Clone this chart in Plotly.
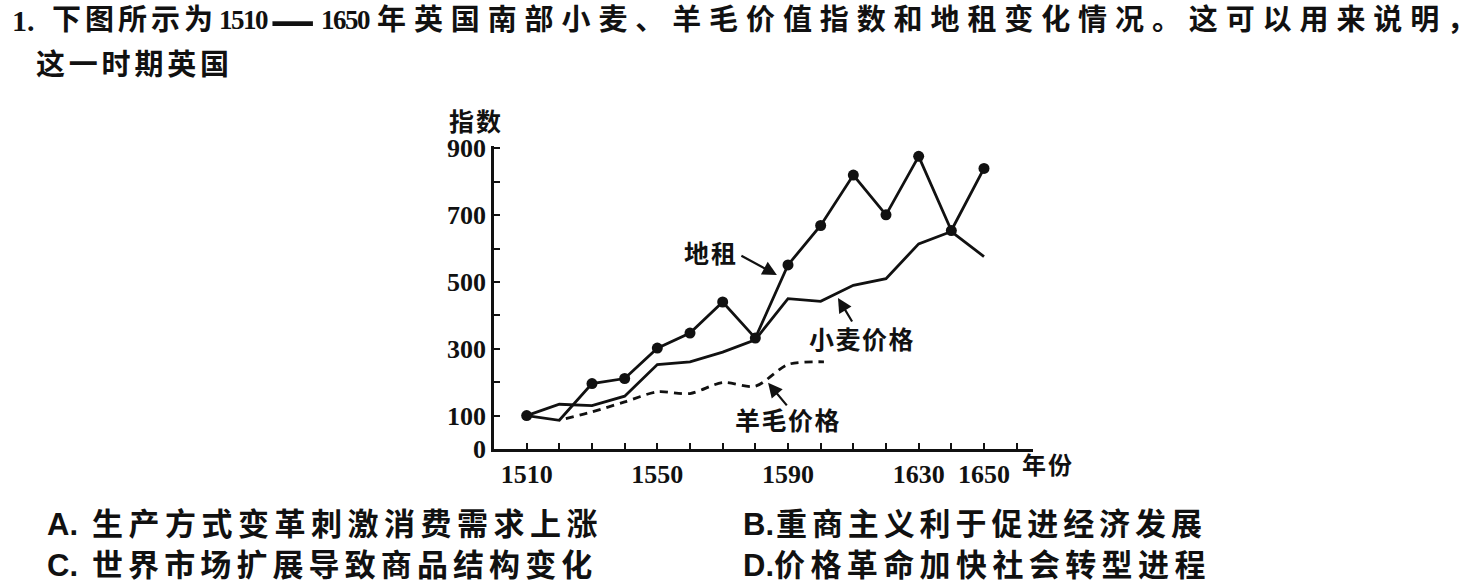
import plotly.graph_objects as go

# ---------------- data ----------------
years = [1510, 1520, 1530, 1540, 1550, 1560, 1570, 1580, 1590, 1600, 1610, 1620, 1630, 1640, 1650]
rent = [100, 86, 196, 211, 302, 347, 440, 332, 551, 669, 820, 701, 876, 654, 840]
wheat = [100, 134, 130, 158, 253, 261, 290, 327, 450, 442, 490, 510, 614, 651, 576]
wool_years = [1522, 1530, 1540, 1550, 1560, 1570, 1580, 1590, 1601]
wool = [91, 111, 141, 171, 166, 199, 188, 253, 261]
rent_unmarked_years = [1520]

x_ticks = list(range(1510, 1661, 10))
x_tick_labels = {1510: "1510", 1550: "1550", 1590: "1590", 1630: "1630", 1650: "1650"}
y_ticks = list(range(0, 901, 100))
y_tick_labels = {0: "0", 100: "100", 300: "300", 500: "500", 700: "700", 900: "900"}

question_l1_a = "1."
question_l1_b = "下图所示为"
question_l1_y1 = "1510"
question_l1_dash = "—"
question_l1_y2 = "1650"
question_l1_c = "年英国南部小麦、羊毛价值指数和地租变化情况。这可以用来说明，"
question_l2 = "这一时期英国"
options = [("A.", "生产方式变革刺激消费需求上涨"),
           ("B.", "重商主义利于促进经济发展"),
           ("C.", "世界市场扩展导致商品结构变化"),
           ("D.", "价格革命加快社会转型进程")]

# ---------------- layout geometry ----------------
W, H = 1478, 583
L, R, T, B = 494, 1033, 146, 449
PW, PH = R - L, B - T
CJK = "Liberation Sans, Noto Sans CJK SC"
SERIF = "Liberation Serif"
INK = "#111111"


def px(xp):
    return (xp - L) / PW


def py(yp):
    return (B - yp) / PH


fig = go.Figure()

fig.add_trace(go.Scatter(
    x=years, y=wheat, mode="lines",
    line=dict(color=INK, width=2.8), showlegend=False, hoverinfo="skip"))
fig.add_trace(go.Scatter(
    x=wool_years, y=wool, mode="lines",
    line=dict(color=INK, width=2.8, dash="8px,6px", shape="spline", smoothing=0.8),
    showlegend=False, hoverinfo="skip"))
fig.add_trace(go.Scatter(
    x=years, y=rent, mode="lines",
    line=dict(color=INK, width=2.8), showlegend=False, hoverinfo="skip"))
mk = [(x, y) for x, y in zip(years, rent) if x not in rent_unmarked_years]
fig.add_trace(go.Scatter(
    x=[p[0] for p in mk], y=[p[1] for p in mk], mode="markers",
    marker=dict(color=INK, size=11), showlegend=False, hoverinfo="skip"))

annotations = []


def txt(s, xp, yp, size, family=CJK, ls=0, xanchor="left"):
    if ls:
        # spacing between characters only (no trailing space after the last one)
        t = f'<span style="letter-spacing:{ls}px">{s[:-1]}</span>{s[-1]}'
    else:
        t = s
    annotations.append(dict(
        text=t, x=px(xp), y=py(yp), xref="paper", yref="paper",
        xanchor=xanchor, yanchor="middle", showarrow=False,
        borderpad=0, borderwidth=0,
        font=dict(family=family, size=size, color=INK, weight="bold")))


# question text
txt(question_l1_a, 12, 20, 30, family=SERIF)
txt(question_l1_b, 52, 20, 29, ls=4)
txt(question_l1_y1, 219, 20, 27, family=SERIF, ls=-1.5)
txt(question_l1_dash, 292, 16, 50, family="Noto Sans CJK SC", xanchor="center")
txt(question_l1_y2, 321, 20, 27, family=SERIF, ls=-1.5)
txt(question_l1_c, 377, 20, 29, ls=7.9)
txt(question_l2, 36, 65, 29, ls=3.8)

# options
opt_pos = {"A.": (47, 92, 524, 5.5), "B.": (743, 776, 524, 4.9),
           "C.": (47, 92, 565, 5.1), "D.": (743, 774, 565, 5.4)}
for lab, body in options:
    lx, bx, yy, ls = opt_pos[lab]
    txt(lab, lx, yy, 31)
    txt(body, bx, yy, 31, ls=ls)

# chart labels
txt("指数", 475, 122, 25, ls=2, xanchor="center")
txt("年份", 1047, 466, 24, ls=2, xanchor="center")
txt("地租", 710, 254, 25, ls=2, xanchor="center")
txt("小麦价格", 861, 340, 25, ls=1.5, xanchor="center")
txt("羊毛价格", 787, 421, 25, ls=1.5, xanchor="center")


def arrow(xd, yd, ax, ay):
    annotations.append(dict(
        x=xd, y=yd, xref="x", yref="y", text="", showarrow=True,
        ax=ax, ay=ay, arrowhead=2, arrowsize=1.3, arrowwidth=2.2,
        arrowcolor=INK, standoff=0, startstandoff=0))


arrow(1586.6, 521, -37, -20)
arrow(1605.3, 452, 15, 25)
arrow(1583.9, 198, 20, 24)

fig.update_layout(
    width=W, height=H, autosize=False,
    margin=dict(l=L, r=W - R, t=T, b=H - B, pad=0),
    paper_bgcolor="white", plot_bgcolor="white",
    annotations=annotations,
    xaxis=dict(
        range=[1500, 1665], showgrid=False, zeroline=False,
        showline=True, linecolor=INK, linewidth=2.5,
        ticks="inside", ticklen=6, tickwidth=2, tickcolor=INK,
        tickvals=x_ticks, ticktext=[x_tick_labels.get(v, "") for v in x_ticks],
        tickfont=dict(family=SERIF, size=26, color=INK, weight="bold"),
    ),
    yaxis=dict(
        range=[0, 907], showgrid=False, zeroline=False,
        showline=True, linecolor=INK, linewidth=2.5,
        ticks="inside", ticklen=6, tickwidth=2, tickcolor=INK,
        tickvals=y_ticks, ticktext=[y_tick_labels.get(v, "") for v in y_ticks],
        tickfont=dict(family=SERIF, size=26, color=INK, weight="bold"),
    ),
)

fig.write_html(
    "out.html",
    config={"displayModeBar": False},
    post_script="document.body.style.margin='0';document.body.style.overflow='hidden';",
)
